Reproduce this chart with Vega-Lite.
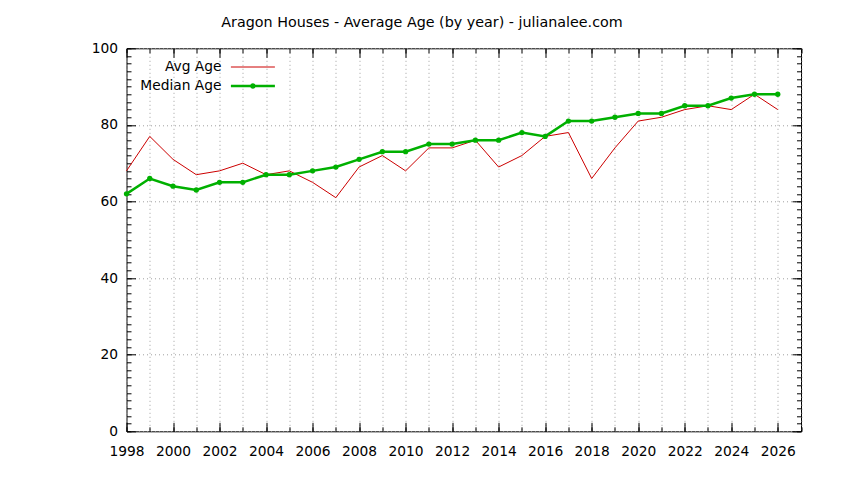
{
  "$schema": "https://vega.github.io/schema/vega-lite/v6.json",
  "width": 674.5,
  "height": 383,
  "autosize": {"type": "none"},
  "padding": {"left": 126.5, "top": 48.3, "right": 43, "bottom": 48.7},
  "title": {
    "text": "Aragon Houses - Average Age (by year) - julianalee.com",
    "anchor": "middle",
    "frame": "group",
    "dx": -41.75,
    "offset": 0,
    "baseline": "alphabetic",
    "font": "DejaVu Sans",
    "fontSize": 14.3,
    "fontWeight": "normal",
    "color": "#000000"
  },
  "config": {
    "view": {"stroke": "#000000", "strokeWidth": 1},
    "axis": {
      "domain": false,
      "title": null,
      "labelFont": "DejaVu Sans",
      "labelFontSize": 13.8,
      "labelColor": "#000000",
      "labelOverlap": false,
      "labelFlush": false,
      "tickColor": "#000000",
      "tickWidth": 1,
      "gridColor": "#a0a0a0",
      "gridDash": [1, 3],
      "gridOpacity": 1,
      "gridWidth": 1
    }
  },
  "data": {
    "values": [
      {"year": 1998, "series": "Avg Age", "age": 68},
      {"year": 1999, "series": "Avg Age", "age": 77},
      {"year": 2000, "series": "Avg Age", "age": 71},
      {"year": 2001, "series": "Avg Age", "age": 67},
      {"year": 2002, "series": "Avg Age", "age": 68},
      {"year": 2003, "series": "Avg Age", "age": 70},
      {"year": 2004, "series": "Avg Age", "age": 67},
      {"year": 2005, "series": "Avg Age", "age": 68},
      {"year": 2006, "series": "Avg Age", "age": 65},
      {"year": 2007, "series": "Avg Age", "age": 61},
      {"year": 2008, "series": "Avg Age", "age": 69},
      {"year": 2009, "series": "Avg Age", "age": 72},
      {"year": 2010, "series": "Avg Age", "age": 68},
      {"year": 2011, "series": "Avg Age", "age": 74},
      {"year": 2012, "series": "Avg Age", "age": 74},
      {"year": 2013, "series": "Avg Age", "age": 76},
      {"year": 2014, "series": "Avg Age", "age": 69},
      {"year": 2015, "series": "Avg Age", "age": 72},
      {"year": 2016, "series": "Avg Age", "age": 77},
      {"year": 2017, "series": "Avg Age", "age": 78},
      {"year": 2018, "series": "Avg Age", "age": 66},
      {"year": 2019, "series": "Avg Age", "age": 74},
      {"year": 2020, "series": "Avg Age", "age": 81},
      {"year": 2021, "series": "Avg Age", "age": 82},
      {"year": 2022, "series": "Avg Age", "age": 84},
      {"year": 2023, "series": "Avg Age", "age": 85},
      {"year": 2024, "series": "Avg Age", "age": 84},
      {"year": 2025, "series": "Avg Age", "age": 88},
      {"year": 2026, "series": "Avg Age", "age": 84},
      {"year": 1998, "series": "Median Age", "age": 62},
      {"year": 1999, "series": "Median Age", "age": 66},
      {"year": 2000, "series": "Median Age", "age": 64},
      {"year": 2001, "series": "Median Age", "age": 63},
      {"year": 2002, "series": "Median Age", "age": 65},
      {"year": 2003, "series": "Median Age", "age": 65},
      {"year": 2004, "series": "Median Age", "age": 67},
      {"year": 2005, "series": "Median Age", "age": 67},
      {"year": 2006, "series": "Median Age", "age": 68},
      {"year": 2007, "series": "Median Age", "age": 69},
      {"year": 2008, "series": "Median Age", "age": 71},
      {"year": 2009, "series": "Median Age", "age": 73},
      {"year": 2010, "series": "Median Age", "age": 73},
      {"year": 2011, "series": "Median Age", "age": 75},
      {"year": 2012, "series": "Median Age", "age": 75},
      {"year": 2013, "series": "Median Age", "age": 76},
      {"year": 2014, "series": "Median Age", "age": 76},
      {"year": 2015, "series": "Median Age", "age": 78},
      {"year": 2016, "series": "Median Age", "age": 77},
      {"year": 2017, "series": "Median Age", "age": 81},
      {"year": 2018, "series": "Median Age", "age": 81},
      {"year": 2019, "series": "Median Age", "age": 82},
      {"year": 2020, "series": "Median Age", "age": 83},
      {"year": 2021, "series": "Median Age", "age": 83},
      {"year": 2022, "series": "Median Age", "age": 85},
      {"year": 2023, "series": "Median Age", "age": 85},
      {"year": 2024, "series": "Median Age", "age": 87},
      {"year": 2025, "series": "Median Age", "age": 88},
      {"year": 2026, "series": "Median Age", "age": 88}
    ]
  },
  "resolve": {"axis": {"x": "independent", "y": "independent"}},
  "layer": [
    {
      "mark": {"type": "point", "opacity": 0},
      "encoding": {
        "x": {"field": "year", "type": "quantitative", "scale": {"domain": [1998, 2027], "nice": false, "zero": false},
          "axis": {"orient": "bottom", "values": [1998,1999,2000,2001,2002,2003,2004,2005,2006,2007,2008,2009,2010,2011,2012,2013,2014,2015,2016,2017,2018,2019,2020,2021,2022,2023,2024,2025,2026,2027], "tickSize": -4.5, "labels": false, "grid": true}},
        "y": {"field": "age", "type": "quantitative", "scale": {"domain": [0, 100], "nice": false},
          "axis": {"orient": "left", "values": [0,2,4,6,8,10,12,14,16,18,20,22,24,26,28,30,32,34,36,38,40,42,44,46,48,50,52,54,56,58,60,62,64,66,68,70,72,74,76,78,80,82,84,86,88,90,92,94,96,98,100], "tickSize": -4.5, "labels": false, "grid": false}}
      }
    },
    {
      "mark": {"type": "point", "opacity": 0},
      "encoding": {
        "x": {"field": "year", "type": "quantitative",
          "axis": {"orient": "bottom", "values": [1998,2000,2002,2004,2006,2008,2010,2012,2014,2016,2018,2020,2022,2024,2026], "format": "d", "tickSize": -9, "labels": true, "labelPadding": 22, "labelBaseline": "top", "grid": false}},
        "y": {"field": "age", "type": "quantitative",
          "axis": {"orient": "left", "values": [0,20,40,60,80,100], "tickSize": -9, "labels": true, "labelPadding": 18, "grid": true}}
      }
    },
    {
      "mark": {"type": "point", "opacity": 0},
      "encoding": {
        "x": {"field": "year", "type": "quantitative",
          "axis": {"orient": "top", "values": [1998,1999,2000,2001,2002,2003,2004,2005,2006,2007,2008,2009,2010,2011,2012,2013,2014,2015,2016,2017,2018,2019,2020,2021,2022,2023,2024,2025,2026,2027], "tickSize": -4.5, "labels": false, "grid": false}},
        "y": {"field": "age", "type": "quantitative",
          "axis": {"orient": "right", "values": [0,2,4,6,8,10,12,14,16,18,20,22,24,26,28,30,32,34,36,38,40,42,44,46,48,50,52,54,56,58,60,62,64,66,68,70,72,74,76,78,80,82,84,86,88,90,92,94,96,98,100], "tickSize": -4.5, "labels": false, "grid": false}}
      }
    },
    {
      "mark": {"type": "point", "opacity": 0},
      "encoding": {
        "x": {"field": "year", "type": "quantitative",
          "axis": {"orient": "top", "values": [1998,2000,2002,2004,2006,2008,2010,2012,2014,2016,2018,2020,2022,2024,2026], "tickSize": -9, "labels": false, "grid": false}},
        "y": {"field": "age", "type": "quantitative",
          "axis": {"orient": "right", "values": [0,20,40,60,80,100], "tickSize": -9, "labels": false, "grid": false}}
      }
    },
    {
      "transform": [{"filter": "datum.series === 'Avg Age'"}],
      "mark": {"type": "line", "strokeWidth": 1},
      "encoding": {
        "x": {"field": "year", "type": "quantitative", "axis": null},
        "y": {"field": "age", "type": "quantitative", "axis": null},
        "color": {"field": "series", "type": "nominal",
          "scale": {"domain": ["Avg Age", "Median Age"], "range": ["#cc0000", "#00b000"]},
          "legend": {
            "orient": "none", "legendX": 119.5, "legendY": 11.8, "title": null, "padding": 0,
            "symbolSize": 100, "symbolType": "stroke", "labelAlign": "right", "labelOffset": -38.3,
            "labelFont": "DejaVu Sans", "labelFontSize": 13.8, "labelColor": "#000000", "rowPadding": 4,
            "encode": {"symbols": {"update": {
              "size": {"value": 1936},
              "shape": {"signal": "datum.value === 'Median Age' ? 'M-1,0H1M0.07,0A0.07,0.07,0,1,1,-0.07,0A0.07,0.07,0,1,1,0.07,0' : 'stroke'"},
              "strokeWidth": {"signal": "datum.value === 'Median Age' ? 2.5 : 1"},
              "fill": {"signal": "datum.value === 'Median Age' ? '#00b000' : 'transparent'"}
            }}}
          }}
      }
    },
    {
      "transform": [{"filter": "datum.series === 'Median Age'"}],
      "mark": {"type": "line", "strokeWidth": 2.5, "point": {"filled": true, "size": 28}},
      "encoding": {
        "x": {"field": "year", "type": "quantitative", "axis": null},
        "y": {"field": "age", "type": "quantitative", "axis": null},
        "color": {"field": "series", "type": "nominal",
          "scale": {"domain": ["Avg Age", "Median Age"], "range": ["#cc0000", "#00b000"]},
          "legend": {
            "orient": "none", "legendX": 119.5, "legendY": 11.8, "title": null, "padding": 0,
            "symbolSize": 100, "symbolType": "stroke", "labelAlign": "right", "labelOffset": -38.3,
            "labelFont": "DejaVu Sans", "labelFontSize": 13.8, "labelColor": "#000000", "rowPadding": 4,
            "encode": {"symbols": {"update": {
              "size": {"value": 1936},
              "shape": {"signal": "datum.value === 'Median Age' ? 'M-1,0H1M0.07,0A0.07,0.07,0,1,1,-0.07,0A0.07,0.07,0,1,1,0.07,0' : 'stroke'"},
              "strokeWidth": {"signal": "datum.value === 'Median Age' ? 2.5 : 1"},
              "fill": {"signal": "datum.value === 'Median Age' ? '#00b000' : 'transparent'"}
            }}}
          }}
      }
    }
  ]
}
